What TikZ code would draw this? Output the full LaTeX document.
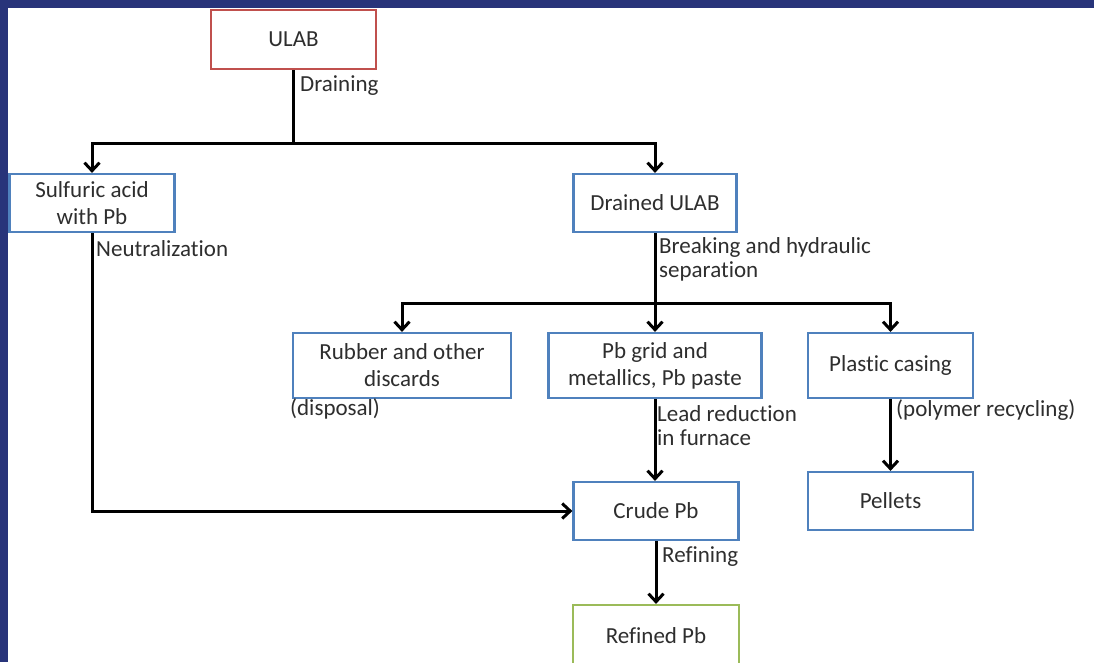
\documentclass[tikz,border=0pt]{standalone}
\usepackage{fontspec}
\setmainfont[Ligatures=NoCommon]{Carlito}
\usetikzlibrary{arrows.meta}
\definecolor{framenavy}{RGB}{40,52,122}
\definecolor{boxblue}{RGB}{79,129,189}
\definecolor{boxred}{RGB}{192,80,77}
\definecolor{boxgreen}{RGB}{155,187,89}

\begin{document}
\begin{tikzpicture}[x=1pt, y=-1pt,
    box/.style={draw=boxblue, line width=2.2pt, align=center, inner sep=0pt,
        text=black!82, font=\fontsize{23}{27}\selectfont},
    lbl/.style={anchor=west, align=left, inner sep=0pt,
        text=black!82, font=\fontsize{23}{24}\selectfont},
    flow/.style={line width=3pt, -{Straight Barb[length=8pt, width=15pt]}}]
    % Canvas and frame
    \useasboundingbox (0,0) rectangle (1094,662);
    \clip (0,0) rectangle (1094,662);
    \fill[framenavy] (0,0) rectangle (1094,662);
    \fill[white] (8,8) rectangle (1094,662);
    % Boxes
    \node[box, draw=boxred, minimum width=165pt, minimum height=59pt] (ulab) at (293.5,39.5) {ULAB};
    \node[box, minimum width=165pt, minimum height=58pt] (acid) at (92,203) {Sulfuric acid\\with Pb};
    \node[box, minimum width=163pt, minimum height=58pt] (drained) at (655,203) {Drained ULAB};
    \node[box, minimum width=218pt, minimum height=65pt] (rubber) at (402,365.5) {Rubber and other\\discards};
    \node[box, minimum width=213pt, minimum height=65pt] (grid) at (655,365.5) {Pb grid and\\metallics, Pb paste};
    \node[box, minimum width=165pt, minimum height=65pt] (plastic) at (890.5,365.5) {Plastic casing};
    \node[box, minimum width=165pt, minimum height=58pt] (pellets) at (890.5,501) {Pellets};
    \node[box, minimum width=165pt, minimum height=58pt] (crude) at (656,511) {Crude Pb};
    \node[box, draw=boxgreen, minimum width=166pt, minimum height=62pt] (refined) at (656,636) {Refined Pb};
    % Process labels
    \node[lbl] (ldrain) at (300,86) {Draining};
    \node[lbl] (lneut) at (96,249) {Neutralization};
    \node[lbl] (lbreak) at (659,259) {Breaking and hydraulic\\separation};
    \node[lbl] (ldisp) at (290,409) {(disposal)};
    \node[lbl] (llead) at (657,426) {Lead reduction\\in furnace};
    \node[lbl] (lpoly) at (896,410) {(polymer recycling)};
    \node[lbl] (lrefine) at (662,557) {Refining};
    % Branch points
    \coordinate (split1) at (293.5,143);
    \coordinate (split2) at (655,303);
    % Connectors
    \draw[line width=3pt] (ulab.south) -- (split1);
    \draw[flow] (split1) -| (acid.north);
    \draw[flow] (split1) -| (drained.north);
    \draw[line width=3pt] (drained.south) -- (split2);
    \draw[flow] (split2) -| (rubber.north);
    \draw[flow] (split2) -- (grid.north);
    \draw[flow] (split2) -| (plastic.north);
    \draw[flow] (grid.south) -- (grid.south |- crude.north);
    \draw[flow] (acid.south) |- (crude.west);
    \draw[flow] (plastic.south) -- (pellets.north);
    \draw[flow] (crude.south) -- (refined.north);
\end{tikzpicture}
\end{document}
